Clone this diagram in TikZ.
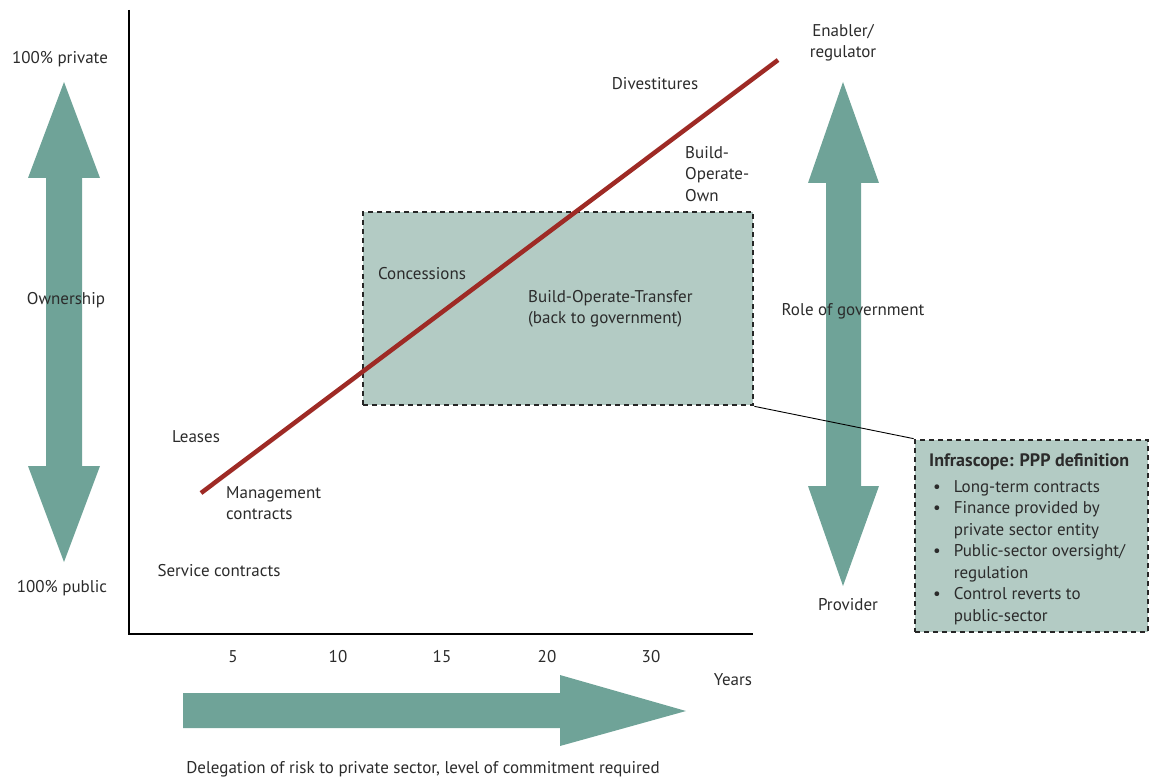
\documentclass[tikz,border=0pt]{standalone}
\usepackage{fontspec}
\setmainfont{PT Sans}
\definecolor{tealarrow}{HTML}{6FA398}
\definecolor{boxfill}{HTML}{B3CBC4}
\definecolor{redline}{HTML}{9E2A25}
\definecolor{txt}{HTML}{2B2B2B}
\tikzset{
  lbl/.style={text=txt, font=\fontsize{17}{21.5}\selectfont, inner sep=0pt},
  bigarrow/.style={fill=tealarrow, draw=none},
  dashbox/.style={draw=black!85, line width=2.7pt, dash pattern=on 5pt off 4pt, fill=boxfill, inner sep=0pt},
}
\begin{document}
\begin{tikzpicture}[x=1pt,y=-1pt]
\useasboundingbox (0,0) rectangle (1159,778);
% big arrows
\path[bigarrow] (64,82) -- (100,178) -- (82,178) -- (82,466) -- (100,466) -- (64,562) -- (28,466) -- (46,466) -- (46,178) -- (28,178) -- cycle;
\path[bigarrow] (843,82) -- (879,183) -- (861,183) -- (861,486) -- (879,486) -- (843,586) -- (808,486) -- (826,486) -- (826,183) -- (808,183) -- cycle;
\path[bigarrow] (183,693) -- (560,693) -- (560,675) -- (686,711) -- (560,746) -- (560,728) -- (183,728) -- cycle;
% axes
\coordinate (ytop) at (129,10);
\coordinate (orig) at (129,634);
\coordinate (xend) at (753,634);
\draw[line width=1.3pt] (ytop) -- (orig) -- (xend);
% boxes
\node[dashbox, minimum width=390pt, minimum height=193pt] (bot) at (558,308.5) {};
\node[dashbox, minimum width=233pt, minimum height=192pt] (info) at (1031.5,536) {};
\draw[line width=0.9pt] (bot.south east) -- (info.north west);
% red line
\coordinate (r1) at (201,493);
\coordinate (r2) at (778,60);
\draw[redline, line width=4.5pt] (r1) -- (r2);
% labels
\node[lbl] (priv) at (60,59) {100\% private};
\node[lbl] (publ) at (62,588) {100\% public};
\node[lbl] (own) at (66,300) {Ownership};
\node[lbl] (div) at (655,84) {Divestitures};
\node[lbl, align=left, anchor=north west] (boo) at (685,146) {Build-\\Operate-\\Own};
\node[lbl] (conc) at (422,274) {Concessions};
\node[lbl, align=left, anchor=north west] (bot2) at (528,290) {Build-Operate-Transfer\\(back to government)};
\node[lbl] (leas) at (196,437) {Leases};
\node[lbl, align=left, anchor=north west] (mgmt) at (226,486) {Management\\contracts};
\node[lbl] (serv) at (219,571) {Service contracts};
\node[lbl] (t5) at (233,657) {5};
\node[lbl] (t10) at (338,657) {10};
\node[lbl] (t15) at (442,657) {15};
\node[lbl] (t20) at (547,657) {20};
\node[lbl] (t30) at (651,657) {30};
\node[lbl] (yrs) at (733,680) {Years};
\node[lbl] (deleg) at (423,769) {Delegation of risk to private sector, level of commitment required};
\node[lbl, align=center] (enab) at (843,43) {Enabler/\\regulator};
\node[lbl] (role) at (853,311) {Role of government};
\node[lbl] (prov) at (848,605) {Provider};
\node[lbl, anchor=north west] (infotxt) at (929,451) {%
\begin{tabular}{@{}l@{\hspace{13pt}}l@{}}
\multicolumn{2}{@{}l@{}}{\fontsize{18}{21.5}\selectfont\bfseries Infrascope: PPP definition}\\[4.5pt]
\hspace{4pt}\textbullet & Long-term contracts\\
\hspace{4pt}\textbullet & Finance provided by\\
 & private sector entity\\
\hspace{4pt}\textbullet & Public-sector oversight/\\
 & regulation\\
\hspace{4pt}\textbullet & Control reverts to\\
 & public-sector
\end{tabular}};
\end{tikzpicture}
\end{document}
